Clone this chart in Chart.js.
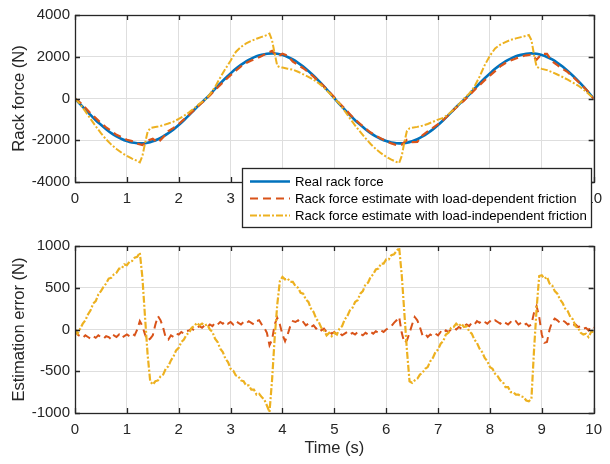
<!DOCTYPE html>
<html>
<head>
<meta charset="utf-8">
<title>Rack force estimation</title>
<script src="https://cdn.jsdelivr.net/npm/chart.js@4.4.0/dist/chart.umd.min.js"></script>
<style>
  body { margin: 0; background: #fff; }
  canvas { display: block; }
</style>
</head>
<body>
<canvas id="forceChart" width="610" height="232"></canvas>
<canvas id="errorChart" width="610" height="232"></canvas>
<script>
const FONT = '"Liberation Sans", Arial, Helvetica, sans-serif';
const AXIS_COLOR = '#262626';
const GRID_COLOR = 'rgb(222,222,222)';
const BLUE = '#0072BD';
const RED = '#D95319';
const YELLOW = '#EDB120';

// sample steps (s)
const forceStep = 0.1;
const errorStep = 0.05;

// measured rack force, 0..10 s
const realForce = [
  0, -270, -530, -790, -1040, -1260, -1470, -1660, -1810, -1940,
  -2040, -2110, -2140, -2150, -2120, -2050, -1950, -1820, -1660, -1480,
  -1270, -1040, -800, -540, -290, -60,
  190, 460, 720, 970, 1200, 1420, 1610, 1780, 1910, 2020,
  2090, 2140, 2160, 2140, 2080, 1990, 1870, 1710, 1530, 1320,
  1090, 840, 580, 300, 20,
  -270, -530, -790, -1040, -1260, -1470, -1660, -1810, -1940, -2040,
  -2110, -2140, -2150, -2120, -2050, -1950, -1820, -1660, -1480, -1270,
  -1040, -800, -540, -290, -60,
  190, 460, 720, 970, 1200, 1420, 1610, 1780, 1910, 2020,
  2090, 2140, 2160, 2140, 2080, 1990, 1870, 1710, 1530, 1320,
  1090, 840, 580, 300, 0
];

// estimate, load-dependent friction model
const estLoadDep = [
  0, -200, -440, -710, -940, -1180, -1380, -1560, -1740, -1850,
  -1980, -2040, -2160, -2230, -2020, -1930, -2110, -1860, -1560, -1410,
  -1220, -1000, -780, -540, -310, -90,
  150, 400, 650, 890, 1120, 1330, 1540, 1700, 1820, 1920,
  2030, 2180, 2280, 2000, 2140, 2050, 1770, 1610, 1450, 1260,
  1050, 820, 580, 320, 60,
  -230, -480, -750, -1010, -1220, -1430, -1630, -1780, -1920, -2040,
  -2150, -2240, -2210, -1980, -2090, -2080, -1760, -1580, -1410, -1230,
  -1030, -800, -550, -320, -100,
  150, 400, 640, 880, 1100, 1310, 1540, 1700, 1820, 1920,
  2010, 2070, 2100, 1860, 2140, 2140, 1780, 1600, 1420, 1260,
  1040, 810, 570, 310, -20
];

// estimate, load-independent friction model (denser around the jumps)
const estLoadFreeTime = [
  0, 0.1, 0.2, 0.3, 0.4, 0.5, 0.6, 0.7, 0.8, 0.9, 1.0, 1.1, 1.2,
  1.25, 1.3, 1.35, 1.4, 1.45,
  1.5, 1.6, 1.7, 1.8, 1.9, 2.0, 2.1, 2.2, 2.3, 2.4, 2.5, 2.6, 2.7, 2.8, 2.9, 3.0, 3.1, 3.2, 3.3, 3.4, 3.5, 3.6, 3.7,
  3.75, 3.8, 3.85, 3.9, 3.95,
  4.0, 4.1, 4.2, 4.3, 4.4, 4.5, 4.6, 4.7, 4.8, 4.9, 5.0, 5.1, 5.2, 5.3, 5.4, 5.5, 5.6, 5.7, 5.8, 5.9, 6.0, 6.1, 6.2,
  6.25, 6.3, 6.35, 6.4, 6.45,
  6.5, 6.6, 6.7, 6.8, 6.9, 7.0, 7.1, 7.2, 7.3, 7.4, 7.5, 7.6, 7.7, 7.8, 7.9, 8.0, 8.1, 8.2, 8.3, 8.4, 8.5, 8.6, 8.7,
  8.75, 8.8, 8.85, 8.9, 8.95,
  9.0, 9.1, 9.2, 9.3, 9.4, 9.5, 9.6, 9.7, 9.8, 9.9, 10.0
];
const estLoadFree = [
  0, -270, -620, -980, -1330, -1660, -1960, -2210, -2420, -2600, -2750, -2880, -2990,
  -3060, -2750, -2150, -1600, -1420,
  -1390, -1340, -1280, -1200, -1110, -980, -830, -660, -460, -250, -80, 200, 550, 1000, 1420, 1810, 2230, 2470, 2640, 2760, 2860, 2950, 3040,
  3110, 2780, 2150, 1560, 1500,
  1480, 1430, 1380, 1280, 1160, 1040, 900, 730, 520, 270, 0, -250, -600, -950, -1290, -1600, -1900, -2180, -2420, -2620, -2790, -2930, -3040,
  -3090, -2750, -2100, -1550, -1430,
  -1400, -1360, -1300, -1220, -1120, -1010, -930, -750, -530, -280, 0, 230, 560, 1050, 1600, 2050, 2400, 2580, 2700, 2810, 2880, 2940, 3000,
  3040, 2800, 2100, 1520, 1460,
  1420, 1360, 1260, 1150, 1030, 900, 760, 620, 440, 230, 0
];

// estimation errors, one row = 0.5 s
const errLoadDep = [
  0, -60, -80, -100, -70, -90, -110, -80, -100, -70,
  -90, -110, -80, -90, -120, -70, -90, -60, -100, -80,
  -60, -80, -50, -70, 0, 100, 40, -60, -130, -110,
  -70, 60, 160, 110, 20, -100, -120, -70, -90, -50,
  -60, -30, -50, -20, -10, 10, -10, 20, 40, 20,
  50, 30, 60, 40, 80, 60, 90, 70, 100, 70,
  90, 60, 100, 80, 60, 90, 70, 100, 80, 60,
  100, 110, 60, 20, -40, -190, -120, 60, 140, 60,
  -60, -140, -60, 40, 100, 90, 110, 70, 90, 50,
  70, 30, 50, 10, 30, -10, 10, -30, -20, -50,
  -30, -60, -40, -70, -50, -30, -60, -40, -60, -30,
  -50, -70, -40, -60, -30, -50, -20, -40, -10, -30,
  0, 20, 40, 80, 110, 150, -40, -160, -130, -40,
  60, 150, 110, 30, -70, -50, -90, -60, -80, -50,
  -70, -30, -50, -10, -30, 0, 20, 0, 30, 10,
  40, 60, 40, 80, 60, 100, 80, 110, 90, 70,
  100, 80, 110, 90, 70, 100, 80, 60, 90, 70,
  100, 60, 80, 50, 70, 40, 60, 200, 280, 150,
  -60, -160, -150, 0, 90, 130, 110, 80, 110, 90,
  60, 80, 50, 60, 30, 40, 10, 20, -10, 40,
  20
];
const errLoadFree = [
  0, -50, 10, 70, 110, 180, 230, 310, 340, 420,
  460, 510, 550, 610, 620, 660, 680, 730, 730, 780,
  770, 810, 820, 860, 870, 920, 620, 150, -300, -620,
  -660, -620, -610, -560, -540, -470, -440, -370, -320, -250,
  -220, -150, -120, -60, -40, 20, 40, 80, 50, 70,
  50, 60, 0, -30, -110, -150, -230, -270, -350, -390,
  -470, -490, -550, -560, -610, -620, -670, -670, -720, -720,
  -780, -770, -810, -840, -910, -990, -600, -100, 300, 580,
  630, 600, 610, 570, 570, 520, 500, 440, 430, 360,
  330, 250, 210, 130, 90, 20, -10, -70, -40, -80,
  -40, -60, 10, 40, 120, 160, 230, 260, 330, 350,
  430, 460, 540, 560, 630, 660, 720, 730, 790, 790,
  840, 840, 890, 900, 940, 980, 650, 200, -250, -620,
  -640, -610, -590, -540, -520, -470, -450, -380, -340, -270,
  -240, -170, -140, -60, -40, 20, 30, 70, 40, 70,
  30, 40, -20, -50, -120, -160, -230, -270, -340, -380,
  -450, -470, -530, -560, -610, -630, -690, -690, -750, -750,
  -780, -780, -800, -810, -850, -860, -830, -250, 250, 640,
  650, 610, 630, 550, 530, 460, 430, 360, 320, 250,
  220, 150, 120, 40, 20, -40, -60, -50, -90, -30,
  -30
];

const seriesLabels = [
  'Real rack force',
  'Rack force estimate with load-dependent friction',
  'Rack force estimate with load-independent friction'
];

const forceTime = realForce.map((_, i) => +(i * forceStep).toFixed(2));
const errorTime = errLoadDep.map((_, i) => +(i * errorStep).toFixed(2));

function toPoints(times, values) {
  return values.map((v, i) => ({ x: times[i], y: v }));
}

// MATLAB style box: dark frame with inward ticks on all four sides
const boxPlugin = {
  id: 'boxFrame',
  afterDatasetsDraw(chart) {
    const { ctx, chartArea: a, scales: { x, y } } = chart;
    const len = 5;
    ctx.save();
    ctx.strokeStyle = AXIS_COLOR;
    ctx.lineWidth = 1.3;
    ctx.beginPath();
    x.ticks.forEach(t => {
      const px = Math.round(x.getPixelForValue(t.value)) + 0.5;
      ctx.moveTo(px, a.bottom); ctx.lineTo(px, a.bottom - len);
      ctx.moveTo(px, a.top); ctx.lineTo(px, a.top + len);
    });
    y.ticks.forEach(t => {
      const py = Math.round(y.getPixelForValue(t.value)) + 0.5;
      ctx.moveTo(a.left, py); ctx.lineTo(a.left + len, py);
      ctx.moveTo(a.right, py); ctx.lineTo(a.right - len, py);
    });
    ctx.stroke();
    ctx.strokeRect(Math.round(a.left) + 0.5, Math.round(a.top) + 0.5,
      Math.round(a.right - a.left), Math.round(a.bottom - a.top));
    ctx.restore();
  }
};

// boxed legend sitting over the lower right of the force plot
const legendPlugin = {
  id: 'boxLegend',
  afterDraw(chart) {
    const ctx = chart.ctx;
    const bx = 242, by = 168, bw = 349, bh = 59;
    ctx.save();
    ctx.fillStyle = '#fff';
    ctx.fillRect(bx, by, bw, bh);
    ctx.strokeStyle = AXIS_COLOR;
    ctx.lineWidth = 1.3;
    ctx.strokeRect(bx + 0.5, by + 0.5, bw, bh);
    ctx.font = '13.2px ' + FONT;
    ctx.textBaseline = 'middle';
    chart.data.datasets.forEach((ds, i) => {
      const rowY = by + 13.5 + i * 17;
      ctx.strokeStyle = ds.borderColor;
      ctx.lineWidth = ds.borderWidth;
      ctx.setLineDash(ds.borderDash || []);
      ctx.beginPath();
      ctx.moveTo(bx + 8, rowY);
      ctx.lineTo(bx + 48, rowY);
      ctx.stroke();
      ctx.setLineDash([]);
      ctx.fillStyle = '#000';
      ctx.fillText(ds.label, bx + 53, rowY + 1);
    });
    ctx.restore();
  }
};

function makeOptions(cfg) {
  return {
    responsive: false,
    animation: false,
    devicePixelRatio: 1,
    events: [],
    layout: { padding: { left: 0, right: 13, top: cfg.padTop, bottom: 0 } },
    elements: { point: { radius: 0 }, line: { tension: 0, fill: false, borderCapStyle: 'butt' } },
    plugins: { legend: { display: false }, tooltip: { enabled: false } },
    scales: {
      x: {
        type: 'linear', min: 0, max: 10,
        ticks: { stepSize: 1, padding: 8, maxRotation: 0, autoSkip: false,
                 font: { family: FONT, size: 15 }, color: AXIS_COLOR, callback: v => String(v) },
        grid: { color: GRID_COLOR, drawTicks: false },
        border: { display: false },
        title: { display: !!cfg.xTitle, text: cfg.xTitle || '', color: AXIS_COLOR,
                 font: { family: FONT, size: 16.5 }, padding: { top: 0, bottom: 6 } },
        afterFit: s => { s.height = cfg.xHeight; }
      },
      y: {
        type: 'linear', min: cfg.yMin, max: cfg.yMax,
        ticks: { stepSize: cfg.yStep, padding: 5, autoSkip: false,
                 font: { family: FONT, size: 15 }, color: AXIS_COLOR, callback: v => String(v) },
        grid: { color: GRID_COLOR, drawTicks: false },
        border: { display: false },
        title: { display: true, text: cfg.yTitle, color: AXIS_COLOR,
                 font: { family: FONT, size: 16.5 }, padding: { top: 10, bottom: 0 } },
        afterFit: s => { s.width = 75; }
      }
    }
  };
}

new Chart(document.getElementById('forceChart'), {
  type: 'line',
  data: {
    datasets: [
      { label: seriesLabels[0], data: toPoints(forceTime, realForce),
        borderColor: BLUE, borderWidth: 2.6, tension: 0.3, order: 3 },
      { label: seriesLabels[1], data: toPoints(forceTime, estLoadDep),
        borderColor: RED, borderWidth: 2.2, borderDash: [8, 5], order: 2 },
      { label: seriesLabels[2], data: toPoints(estLoadFreeTime, estLoadFree),
        borderColor: YELLOW, borderWidth: 2, borderDash: [7, 2, 2, 2], order: 1 }
    ]
  },
  options: makeOptions({ padTop: 15, xHeight: 50, yMin: -4000, yMax: 4000, yStep: 2000,
                         yTitle: 'Rack force (N)' }),
  plugins: [boxPlugin, legendPlugin]
});

new Chart(document.getElementById('errorChart'), {
  type: 'line',
  data: {
    datasets: [
      { label: seriesLabels[1], data: toPoints(errorTime, errLoadDep),
        borderColor: RED, borderWidth: 2, borderDash: [8, 5], order: 2 },
      { label: seriesLabels[2], data: toPoints(errorTime, errLoadFree),
        borderColor: YELLOW, borderWidth: 2.2, borderDash: [7, 2, 2, 2], order: 1 }
    ]
  },
  options: makeOptions({ padTop: 14, xHeight: 51, yMin: -1000, yMax: 1000, yStep: 500,
                         yTitle: 'Estimation error (N)', xTitle: 'Time (s)' }),
  plugins: [boxPlugin]
});
</script>
</body>
</html>
